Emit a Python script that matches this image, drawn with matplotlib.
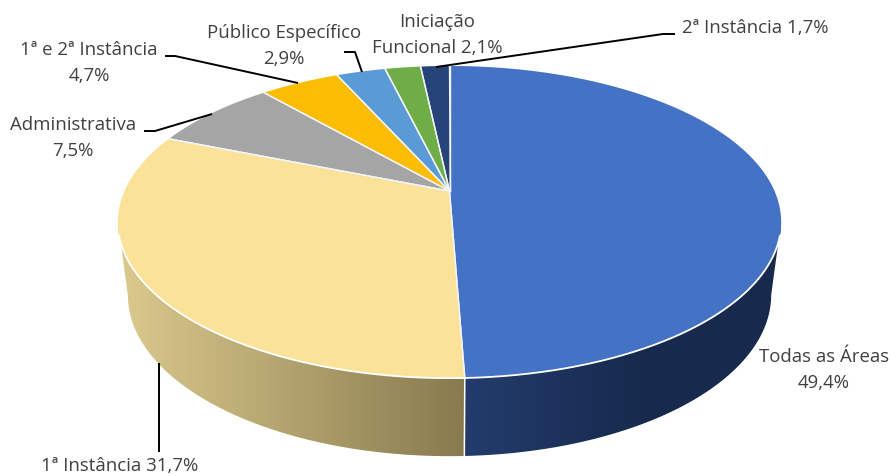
import numpy as np
import matplotlib
matplotlib.use("Agg")
import matplotlib.pyplot as plt
from matplotlib.colors import to_rgb
from matplotlib.patches import Polygon

# ---- data ----
categories = ["Todas as Áreas", "1ª Instância", "Administrativa", "1ª e 2ª Instância",
              "Público Específico", "Iniciação Funcional", "2ª Instância"]
values = [49.4, 31.7, 7.5, 4.7, 2.9, 2.1, 1.7]
top_colors = ["#4472C4", "#FBE299", "#A5A5A5", "#FBBC04", "#5B9BD5", "#6FAD47", "#264478"]
label_texts = ["Todas as Áreas\n49,4%", "1ª Instância 31,7%", "Administrativa\n7,5%",
               "1ª e 2ª Instância\n4,7%", "Público Específico\n2,9%",
               "Iniciação\nFuncional 2,1%", "2ª Instância 1,7%"]
label_pos = [(824, 370), (120, 466), (73, 138), (89, 63), (284, 46), (437, 35), (755, 28)]
leaders = [None,
           [(159, 363), (159, 452)],
           [(144, 131), (155, 131), (212, 114)],
           [(165, 56), (175, 56), (298, 83)],
           [(344, 52), (355, 52), (362, 72)],
           None,
           [(436, 67), (663, 34), (675, 34)]]

# ---- projection of the tilted disc ----
CX, CY = 449.5, 191.0
A, B, K = 325.0, 149.9, 0.199


def rim_top(theta):
    sx, cy = np.sin(theta), np.cos(theta)
    w = 1 + K * cy
    return CX + A * sx / w, CY - B * cy / w


def rim_bottom(theta):
    x, y = rim_top(theta)
    return 450 + (x - 450) * 322 / 332, 295 + (y - 222) * 161 / 156


def gradient(c0, c1, x0, x1, xs):
    t = np.clip((xs - x0) / (x1 - x0), 0, 1)[None, :, None]
    return np.array(to_rgb(c0))[None, None, :] * (1 - t) + np.array(to_rgb(c1))[None, None, :] * t


fig = plt.figure(figsize=(8.91, 4.76), dpi=100)
ax = fig.add_axes([0, 0, 1, 1])
ax.axis("off")

edges = np.radians(np.concatenate([[0], np.cumsum(values)]) * 3.6)
seam = edges[1]
split_x = rim_top(seam)[0]

# widest points of the disc: the wall outline runs from one to the other
dense = np.radians(np.linspace(0, 360, 7201))
dense_x = rim_top(dense)[0]
th_right = dense[np.argmax(dense_x)]
th_left = dense[np.argmin(dense_x)]

# side walls: colour shaded from left to right, clipped to the wall outline
walls = [
    (np.linspace(th_right, seam, 300), "#233C6C", "#172A4E", split_x, 640, split_x, 800),
    (np.linspace(seam, th_left, 300), "#DAC88C", "#877A4E", 125, split_x, 100, split_x),
]
for th, c0, c1, g0, g1, ex0, ex1 in walls:
    xt, yt = rim_top(th)
    xb, yb = rim_bottom(th)
    outline = np.column_stack([np.r_[xt, xb[::-1]], np.r_[yt, yb[::-1]]])
    xs = np.arange(ex0, ex1, 1.0)
    im = ax.imshow(gradient(c0, c1, g0, g1, xs), extent=(ex0, ex1, 470, 100),
                   aspect="auto", interpolation="bilinear", zorder=1)
    im.set_clip_path(Polygon(outline, closed=True, transform=ax.transData))

ax.set_xlim(0, 891)
ax.set_ylim(476, 0)

# seam between the two visible walls
xs, ys = rim_top(seam)
xe, ye = rim_bottom(seam)
ax.plot([xs, xe], [ys, ye], color="white", lw=1.1, zorder=2)

# top faces
for i in range(len(values)):
    th = np.linspace(edges[i], edges[i + 1], 200)
    x, y = rim_top(th)
    ax.fill(np.r_[CX, x], np.r_[CY, y], facecolor=top_colors[i], edgecolor="none", zorder=3)
    for t in (edges[i], edges[i + 1]):
        ex, ey = rim_top(t)
        ax.plot([CX, ex], [CY, ey], color="#F2F4F7", lw=1.0, zorder=4)

# white lip along the front of the top face
th = np.linspace(th_right + np.radians(5), th_left - np.radians(5), 400)
ax.plot(*rim_top(th), color="white", lw=1.3, zorder=4)

# labels
for txt, (lx, ly) in zip(label_texts, label_pos):
    ax.text(lx, ly, txt, ha="center", va="center", fontsize=13.4, family="Open Sans",
            color="#404040", linespacing=1.55, zorder=6)
for seg in leaders:
    if seg:
        ax.plot(*zip(*seg), color="black", lw=1.4, solid_capstyle="butt", zorder=5)

fig.savefig("out.png", dpi=100, facecolor="white")
